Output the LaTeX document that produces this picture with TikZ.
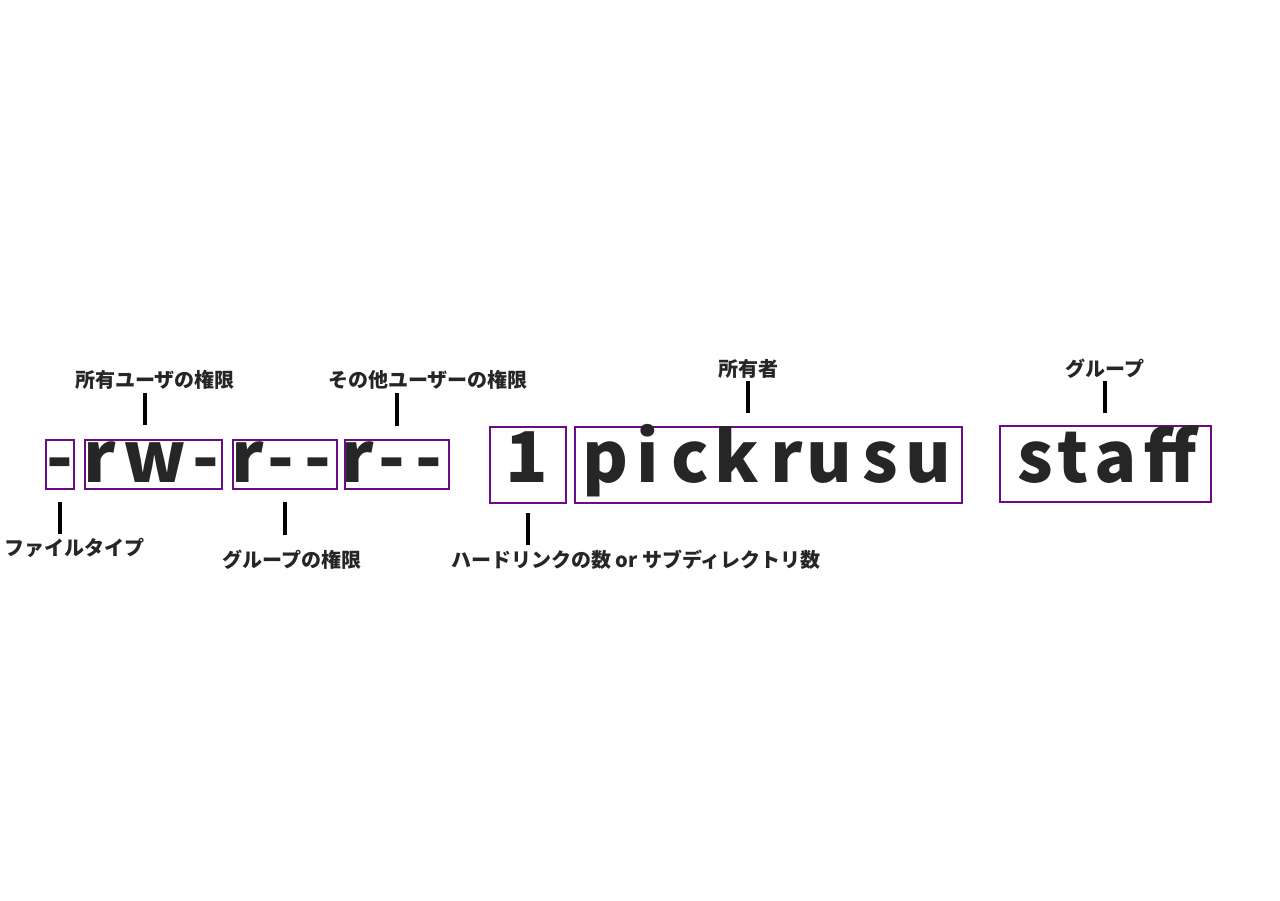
\documentclass[tikz,border=0pt]{standalone}
\usepackage{fontspec}
\setmainfont{Noto Sans CJK JP}
\usetikzlibrary{positioning}
\definecolor{permpurple}{RGB}{106,13,131}
\definecolor{inkgray}{RGB}{38,38,38}

\begin{document}
\begin{tikzpicture}[x=1pt,y=-1pt,
  field/.style={draw=permpurple,line width=2pt,inner sep=0pt},
  bigchar/.style={anchor=base,inner sep=0pt,text=inkgray,font=\fontsize{70}{70}\selectfont\bfseries},
  tag/.style={inner sep=0pt,text=inkgray,font=\fontsize{20}{20}\selectfont\bfseries},
  tick/.style={line width=4pt}]
  \useasboundingbox (0,0) rectangle (1280,900);
  % permission fields
  \node[field,minimum width=28,minimum height=49] (ftype) at (59.5,464) {};
  \node[field,minimum width=137,minimum height=49] (uperm) at (153,464) {};
  \node[field,minimum width=104,minimum height=49] (gperm) at (284.5,464) {};
  \node[field,minimum width=104,minimum height=49] (operm) at (396.5,464) {};
  % count, owner, group
  \node[field,minimum width=76,minimum height=76] (links) at (527.5,464.5) {};
  \node[field,minimum width=387,minimum height=76] (owner) at (768,464.5) {};
  \node[field,minimum width=211,minimum height=76] (group) at (1105,463.5) {};
  % characters
  \foreach \ch/\x in {-/60,r/100,w/155,-/206,r/248,-/281,-/318,r/358,-/392,-/429,
                      1/527,p/606,i/648,c/690,k/737,r/787,u/829,s/880,u/928,
                      s/1035,t/1073,a/1116,ff/1170}
    \node[bigchar] (c\x) at (\x,482) {\ch};
  % labels
  \node[tag] (lbl-uperm) at (155,380) {所有ユーザの権限};
  \node[tag] (lbl-operm) at (428,380) {その他ユーザーの権限};
  \node[tag] (lbl-owner) at (748,369) {所有者};
  \node[tag] (lbl-group) at (1105,369) {グループ};
  \node[tag] (lbl-ftype) at (75,548) {ファイルタイプ};
  \node[tag] (lbl-gperm) at (292,560) {グループの権限};
  \node[tag] (lbl-links) at (636,560) {ハードリンクの数 or サブディレクトリ数};
  % ticks
  \foreach \x/\ya/\yb in {145/393/425,397/393/426,748/381/413,1105/381/413,60/502/534,285/502/535,528/513/545}
    \draw[tick] (\x,\ya) -- (\x,\yb);
\end{tikzpicture}
\end{document}
